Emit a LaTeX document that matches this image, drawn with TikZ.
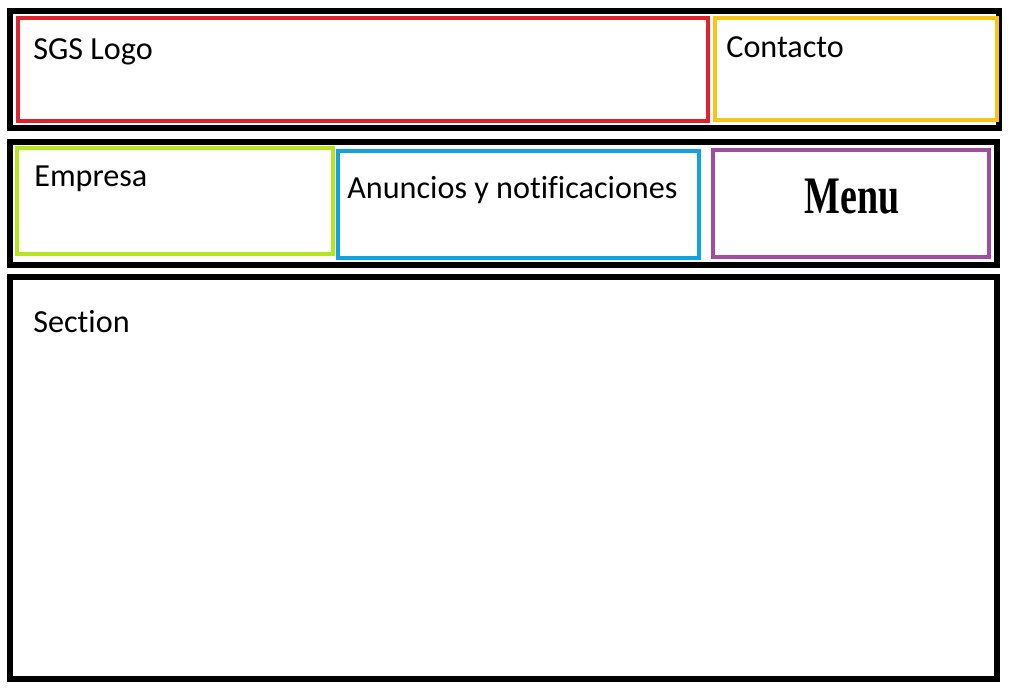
\documentclass[tikz,border=0pt]{standalone}
\usepackage{fontspec}
\setmainfont{Carlito}[Ligatures=NoCommon]
\newfontfamily\menufont{Liberation Serif}
\usetikzlibrary{positioning}
\definecolor{paintred}{HTML}{E0222E}
\definecolor{paintyellow}{HTML}{F5C518}
\definecolor{paintlime}{HTML}{B5E61D}
\definecolor{paintblue}{HTML}{12A2E0}
\definecolor{paintpurple}{HTML}{A04D9E}

\begin{document}
\begin{tikzpicture}[x=0.02cm, y=-0.02cm, font=\fontsize{18.3}{22}\selectfont]
  \tikzset{
    frame/.style={draw=black, line width=2.9pt},
    part/.style={line width=2.7pt},
    lbl/.style={anchor=base west, inner sep=0pt}
  }
  \useasboundingbox (0,0) rectangle (1026,696);
  % header row
  \draw[frame] (10,11) rectangle (999,128);
  \draw[part, draw=paintred] (18,18) rectangle (708,121);
  \draw[part, draw=paintyellow] (715,18) rectangle (997,120);
  \node[lbl] (logo) at (33,60) {SGS Logo};
  \node[lbl] (contacto) at (726,58) {Contacto};
  % navigation row
  \draw[frame] (10,142) rectangle (997,265);
  \draw[part, draw=paintlime] (17,148) rectangle (333,254);
  \draw[part, draw=paintblue] (338,151) rectangle (699,258);
  \draw[part, draw=paintpurple] (713,150) rectangle (989,257);
  \node[lbl] (empresa) at (34,186) {Empresa};
  \node[lbl] (anuncios) at (347,198) {Anuncios y notificaciones};
  \node[anchor=base, inner sep=0pt, xscale=0.72] (menu) at (852,213)
    {\menufont\bfseries\fontsize{30}{30}\selectfont Menu};
  % content
  \draw[frame] (10,277) rectangle (997,679);
  \node[lbl] (section) at (33,332) {Section};
\end{tikzpicture}
\end{document}
